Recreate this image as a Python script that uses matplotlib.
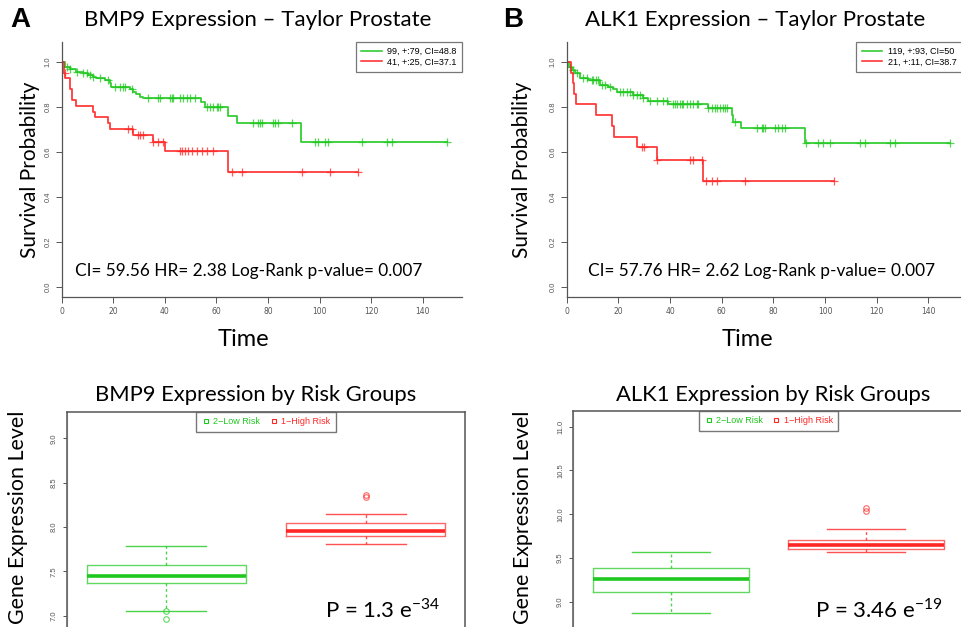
import numpy as np
import matplotlib.pyplot as plt
from matplotlib.lines import Line2D

W, H = 962, 627
GREEN = '#1fc81f'
RED = '#ff2626'
GRAY = '#555555'
TITLE_FONT = ['Lato', 'DejaVu Sans']
R_FONT = ['Liberation Sans', 'DejaVu Sans']

# ---------------- Kaplan-Meier data: BMP9 (panel A) ----------------
bmp9_low_t = [0, 1.4, 3.1, 5.7, 8.3, 10.2, 12.1, 13.4, 16.6, 18.6, 19.2, 26.3, 27.6,
              28.9, 30.2, 31.5, 54.1, 55.4, 64.6, 67.8, 92.6]
bmp9_low_s = [1.0, 0.978, 0.966, 0.956, 0.948, 0.941, 0.933, 0.926, 0.919, 0.904, 0.886,
              0.877, 0.867, 0.856, 0.844, 0.837, 0.822, 0.797, 0.760, 0.726, 0.644]
bmp9_low_end = 149.2
bmp9_low_cens = [1.9, 3.2, 5.8, 8.4, 9.7, 11.0, 12.3, 14.9, 18.1, 20.7, 22.6, 23.9, 24.5,
                 27.1, 33.6, 37.5, 38.1, 42.0, 42.6, 43.3, 45.9, 47.2, 48.4, 49.7, 51.7,
                 56.2, 57.5, 58.8, 60.1, 60.7, 61.4, 74.3, 76.2, 76.9, 77.5, 82.0, 82.7,
                 84.0, 89.1, 98.2, 99.5, 102.0, 103.4, 116.3, 126.0, 127.9, 149.2]

bmp9_high_t = [0, 1.0, 1.4, 3.1, 4.0, 5.7, 12.1, 12.8, 17.9, 18.6, 27.6, 35.4, 39.9, 64.3]
bmp9_high_s = [1.0, 0.951, 0.926, 0.878, 0.829, 0.804, 0.778, 0.753, 0.727, 0.702,
               0.674, 0.643, 0.605, 0.508]
bmp9_high_end = 115.0
bmp9_high_cens = [1.3, 25.8, 27.1, 29.7, 30.4, 31.7, 35.5, 37.5, 39.4, 45.9, 46.5, 47.8,
                  49.1, 50.4, 52.3, 54.3, 56.2, 58.8, 65.9, 69.8, 93.0, 104.0, 115.0]

bmp9_legend = ['99, +:79, CI=48.8', '41, +:25, CI=37.1']
bmp9_stats = 'CI= 59.56 HR= 2.38 Log-Rank p-value= 0.007'

# ---------------- Kaplan-Meier data: ALK1 (panel B) ----------------
alk1_low_t = [0, 0.9, 1.9, 3.2, 5.1, 8.3, 12.8, 16.1, 18.0, 19.3, 25.8, 29.7, 31.3,
              39.3, 54.8, 64.0, 64.5, 67.5, 92.3]
alk1_low_s = [1.0, 0.975, 0.963, 0.948, 0.929, 0.921, 0.896, 0.889, 0.877, 0.864, 0.852,
              0.840, 0.827, 0.812, 0.793, 0.763, 0.733, 0.705, 0.640]
alk1_low_end = 148.4
alk1_low_cens = [1.3, 2.6, 4.1, 6.5, 7.7, 9.7, 10.3, 11.4, 12.3, 13.5, 14.8, 16.8, 20.6,
                 21.9, 23.2, 24.5, 25.8, 27.1, 28.4, 29.7, 32.3, 34.8, 37.4, 38.7, 41.3,
                 41.9, 42.6, 43.9, 44.5, 45.2, 46.5, 47.7, 49.0, 50.3, 51.0, 54.8, 56.1,
                 57.4, 58.1, 59.4, 60.6, 61.3, 61.9, 65.2, 73.5, 75.5, 76.1, 76.8, 80.6,
                 81.9, 83.2, 84.5, 92.5, 97.4, 99.4, 101.9, 113.5, 115.5, 125.2, 127.1, 148.4]

alk1_high_t = [0, 1.7, 2.4, 2.9, 3.6, 11.4, 17.5, 18.2, 27.2, 34.8, 52.9]
alk1_high_s = [1.0, 0.952, 0.905, 0.857, 0.810, 0.762, 0.714, 0.667, 0.619, 0.563, 0.469]
alk1_high_end = 103.5
alk1_high_cens = [29.0, 29.9, 35.1, 47.7, 49.0, 52.3, 53.9, 56.1, 58.0, 69.0, 103.5]

alk1_legend = ['119, +:93, CI=50', '21, +:11, CI=38.7']
alk1_stats = 'CI= 57.76 HR= 2.62 Log-Rank p-value= 0.007'

# ---------------- Boxplot data (Low risk, High risk) ----------------
box_labels = ['2\u2212Low Risk', '1\u2212High Risk']
bmp9_med = [7.45, 7.955]
bmp9_q1 = [7.368, 7.895]
bmp9_q3 = [7.571, 8.048]
bmp9_whislo = [7.052, 7.805]
bmp9_whishi = [7.785, 8.143]
bmp9_fliers = [[7.056, 6.966], [8.36, 8.34]]

alk1_med = [9.26, 9.644]
alk1_q1 = [9.107, 9.599]
alk1_q3 = [9.389, 9.705]
alk1_whislo = [8.867, 9.568]
alk1_whishi = [9.564, 9.827]
alk1_fliers = [[], [10.07, 10.04]]


fig = plt.figure(figsize=(W / 100, H / 100), dpi=100)


def px_axes(left, top, right, bottom):
    return fig.add_axes([left / W, 1 - bottom / H, (right - left) / W, (bottom - top) / H])


def px_text(x, y, s, **kw):
    return fig.text(x / W, 1 - y / H, s, **kw)


def surv_at(t_steps, s_steps, times):
    idx = np.searchsorted(t_steps, times, side='right') - 1
    return np.asarray(s_steps)[idx]


def km_panel(ax, groups, legend_labels, xmax):
    handles = []
    for t, s, end, cens, col in groups:
        tt = list(t) + [end]
        ss = list(s) + [s[-1]]
        ax.step(tt, ss, where='post', color=col, lw=1.3, alpha=0.9)
        ax.plot(cens, surv_at(t, s, cens), '+', color=col, ms=5.5, mew=0.9, alpha=0.75)
        handles.append(Line2D([], [], color=col, lw=1.1))
    ax.set_xlim(0, xmax)
    ax.set_ylim(-0.044, 1.089)
    for sp in ['top', 'right']:
        ax.spines[sp].set_visible(False)
    for sp in ['left', 'bottom']:
        ax.spines[sp].set_color(GRAY)
        ax.spines[sp].set_linewidth(0.9)
    ax.set_xticks(np.arange(0, 141, 20))
    ax.set_yticks(np.arange(0, 1.01, 0.2))
    ax.set_yticklabels([f'{v:.1f}' for v in np.arange(0, 1.01, 0.2)], rotation=90,
                       va='center', family=R_FONT)
    ax.tick_params(length=4, color=GRAY, labelsize=5.5, labelcolor=GRAY, width=0.7)
    leg = ax.legend(handles, legend_labels, loc='upper right', bbox_to_anchor=(1.0, 1.0),
                    borderaxespad=0, fancybox=False, edgecolor=GRAY, handlelength=2.3,
                    prop={'family': R_FONT, 'size': 6.5}, labelspacing=0.15,
                    borderpad=0.6, handletextpad=0.6)
    leg.get_frame().set_linewidth(0.9)


def box_panel(ax, med, q1, q3, lo, hi, fliers, ylim, yticks):
    stats = []
    for i in range(2):
        stats.append(dict(med=med[i], q1=q1[i], q3=q3[i], whislo=lo[i], whishi=hi[i],
                          fliers=fliers[i]))
    cols = [GREEN, RED]
    for i, st in enumerate(stats):
        c = cols[i]
        ax.bxp([st], positions=[i + 1], widths=0.8, showfliers=True,
               boxprops=dict(color=c, lw=1.0, alpha=0.7),
               medianprops=dict(color=c, lw=2.6),
               whiskerprops=dict(color=c, lw=1.0, ls=(0, (2, 2)), alpha=0.8),
               capprops=dict(color=c, lw=1.0, alpha=0.8),
               flierprops=dict(marker='o', mfc='none', mec=c, ms=4, mew=0.8, alpha=0.7))
    ax.axvline(0.5, color='#cccccc', lw=0.9)
    ax.axvline(2.5, color='#cccccc', lw=0.9)
    ax.set_ylim(*ylim)
    ax.set_xticks([])
    ax.set_yticks(yticks)
    ax.set_yticklabels([f'{v:.1f}' for v in yticks], rotation=90, va='center', family=R_FONT)
    ax.tick_params(axis='y', length=3, color=GRAY, labelsize=5.5, labelcolor=GRAY, width=0.7)
    for sp in ax.spines.values():
        sp.set_color(GRAY)
        sp.set_linewidth(1.1)
    handles = [Line2D([], [], ls='none', marker='s', mfc='none', mec=c, ms=3.5, mew=0.8)
               for c in cols]
    leg = ax.legend(handles, box_labels, loc='upper center', bbox_to_anchor=(0.5, 1.0),
                    borderaxespad=0, ncol=2, fancybox=False, edgecolor=GRAY,
                    prop={'family': R_FONT, 'size': 6.5}, labelcolor=cols,
                    handletextpad=0.3, columnspacing=1.0, borderpad=0.6, handlelength=1.0)
    leg.get_frame().set_linewidth(1.0)


# ---------------- Panel A, top: KM ----------------
axA = px_axes(61.7, 41.7, 462, 296.7)
km_panel(axA,
         [(bmp9_low_t, bmp9_low_s, bmp9_low_end, bmp9_low_cens, GREEN),
          (bmp9_high_t, bmp9_high_s, bmp9_high_end, bmp9_high_cens, RED)],
         bmp9_legend, (462 - 61.7) / 2.58)

# ---------------- Panel B, top: KM ----------------
axB = px_axes(566.7, 41.7, 962, 296.7)
km_panel(axB,
         [(alk1_low_t, alk1_low_s, alk1_low_end, alk1_low_cens, GREEN),
          (alk1_high_t, alk1_high_s, alk1_high_end, alk1_high_cens, RED)],
         alk1_legend, (962 - 566.7) / 2.583)

# ---------------- Boxplots ----------------
axC = px_axes(66.7, 412, 465.3, 629)
box_panel(axC, bmp9_med, bmp9_q1, bmp9_q3, bmp9_whislo, bmp9_whishi, bmp9_fliers,
          (6.873 - 2 / 88.67, 9.297), [7.0, 7.5, 8.0, 8.5, 9.0])

axD = px_axes(573, 411, 964, 629)
box_panel(axD, alk1_med, alk1_q1, alk1_q3, alk1_whislo, alk1_whishi, alk1_fliers,
          (8.711 - 2 / 87.5, 11.18), [9.0, 9.5, 10.0, 10.5, 11.0])

# ---------------- Texts ----------------
tf = dict(family=TITLE_FONT, color='black')
px_text(20, 20, 'A', fontsize=20, fontweight='bold', family=R_FONT, ha='center', va='center')
px_text(513, 20, 'B', fontsize=20, fontweight='bold', family=R_FONT, ha='center', va='center')

px_text(258, 20, 'BMP9 Expression \u2013 Taylor Prostate', fontsize=16, ha='center', va='center', **tf)
px_text(755, 20, 'ALK1 Expression \u2013 Taylor Prostate', fontsize=16, ha='center', va='center', **tf)

px_text(30, 170, 'Survival Probability', fontsize=15, rotation=90, ha='center', va='center', **tf)
px_text(522, 170, 'Survival Probability', fontsize=15, rotation=90, ha='center', va='center', **tf)

px_text(243, 340, 'Time', fontsize=17, ha='center', va='center', **tf)
px_text(747, 340, 'Time', fontsize=17, ha='center', va='center', **tf)

px_text(249, 271, bmp9_stats, fontsize=12.4, ha='center', va='center', **tf)
px_text(762, 271, alk1_stats, fontsize=12.4, ha='center', va='center', **tf)

px_text(256, 395, 'BMP9 Expression by Risk Groups', fontsize=15.8, ha='center', va='center', **tf)
px_text(773, 395, 'ALK1 Expression by Risk Groups', fontsize=15.8, ha='center', va='center', **tf)

px_text(18, 517, 'Gene Expression Level', fontsize=15.4, rotation=90, ha='center', va='center', **tf)
px_text(523, 517, 'Gene Expression Level', fontsize=15.4, rotation=90, ha='center', va='center', **tf)

px_text(325, 610, r'P = 1.3 e$^{\mathregular{-34}}$', fontsize=16, ha='left', va='center', **tf)
px_text(815, 610, r'P = 3.46 e$^{\mathregular{-19}}$', fontsize=16, ha='left', va='center', **tf)

fig.savefig('out.png', dpi=100)
